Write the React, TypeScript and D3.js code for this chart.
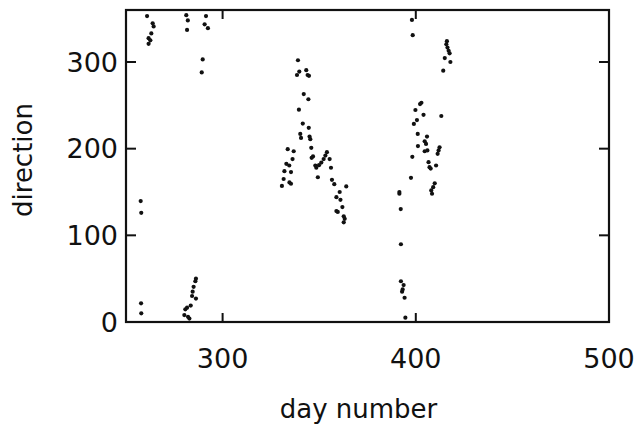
import React from "react";
import * as d3 from "d3";

// day number, direction (degrees)
const days: number[] = [
  257.6, 257.9, 257.8, 257.9,
  260.9, 263.8, 264.3, 263.1, 261.7, 262.6, 261.7,
  281.2, 282, 281.6,
  291.4, 290.7, 292.4, 289.7, 289.2,
  286.2, 285.9, 285, 284.5, 284.2, 286.2, 283.5, 281.6, 280.7, 280.2, 282.1, 282.8,
  339, 338.5, 339.7, 343.3, 344, 344.7, 342, 344.4, 339.5, 341.5, 344.6, 340.2, 340.6, 345, 345.4,
  345.9, 346.8, 346.1, 354, 353.2, 352.3, 351.1, 349.9, 348.5, 348, 349.3, 355.4, 356.1, 356.6,
  357.8, 364, 360.6, 358.9, 361, 362, 358.9, 359.6, 362.7, 363.2, 362.7,
  333.7, 336.8, 333, 334.5, 336.2, 332, 335.4, 331.6, 334.6, 335.4, 330.7,
  398, 398.4, 416.1, 415.8, 416.4, 417, 417.5, 415, 417.9, 414.2,
  402.9, 402.2, 399.8, 404, 413.2, 400.6, 399, 401, 405.8, 404.6, 405.3, 401.1, 412.3, 411.8,
  411.3, 404.6, 406, 398.2, 406.6, 407.1, 407.7, 410.5, 397.5, 409.8, 409, 408, 408.4,
  391.5, 391.5, 392.2, 392.3, 392.3, 393.7, 393.2, 392.9, 394.2, 394.6,
];

const directions: number[] = [
  139.5, 126, 21.5, 10,
  353, 344.7, 341, 333, 327.5, 325, 321,
  354, 348, 337,
  353, 343.5, 339, 303, 288,
  50, 47, 40.6, 35, 30, 27, 19, 16.5, 14.6, 8, 6, 4,
  302, 285, 289, 290.6, 285, 284, 263, 257, 245, 229, 224, 217, 212.4, 214, 211,
  201, 191, 189.4, 196, 192, 188, 184, 181, 178, 180.6, 167, 188, 178, 164,
  159, 156.4, 150, 144, 141, 132.6, 128, 127, 122, 119, 115,
  199.4, 197, 182.5, 180.6, 188, 174, 173, 165, 161, 159.5, 157,
  348.5, 331, 324, 320.5, 316.6, 313, 310, 304.5, 300, 290,
  253, 251.5, 244.6, 239, 237.7, 233, 228.5, 217, 214, 208.5, 205.5, 203, 201.6, 198,
  194, 197, 198, 190.6, 184.4, 178.6, 177, 180.6, 166.4, 160, 155.6, 151.8, 148,
  150, 148, 130.3, 89.7, 47, 42.6, 37.6, 35, 28, 5,
];

const xDomain: [number, number] = [250, 500];
const yDomain: [number, number] = [0, 360];
const xTickValues: number[] = [300, 400];
const xTickLabels: number[] = [300, 400, 500];
const yTickValues: number[] = [100, 200, 300];
const yTickLabels: number[] = [0, 100, 200, 300];
const xTitle = "day number";
const yTitle = "direction";

const W = 635;
const H = 429;
const left = 126;
const right = 609;
const top = 10;
const bottom = 322;
const tickLen = 10;
const font = "'DejaVu Sans', sans-serif";
const fs = 27;

export default function App() {
  const x = d3.scaleLinear().domain(xDomain).range([left, right]);
  const y = d3.scaleLinear().domain(yDomain).range([bottom, top]);
  const pts = days.map((d, i) => [d, directions[i]] as [number, number]);

  return (
    <svg
      width={W}
      height={H}
      viewBox={`0 0 ${W} ${H}`}
      style={{ position: "fixed", left: 0, top: 0, background: "#fff" }}
    >
      <rect x={0} y={0} width={W} height={H} fill="#fff" />
      <rect
        x={left}
        y={top}
        width={right - left}
        height={bottom - top}
        fill="none"
        stroke="#111"
        strokeWidth={2.2}
      />
      {yTickValues.map((v) => (
        <g key={"yt" + v}>
          <line x1={left} x2={left + tickLen} y1={y(v)} y2={y(v)} stroke="#111" strokeWidth={2} />
          <line x1={right} x2={right - tickLen} y1={y(v)} y2={y(v)} stroke="#111" strokeWidth={2} />
        </g>
      ))}
      {xTickValues.map((v) => (
        <g key={"xt" + v}>
          <line x1={x(v)} x2={x(v)} y1={bottom} y2={bottom - tickLen + 1} stroke="#111" strokeWidth={2} />
          <line x1={x(v)} x2={x(v)} y1={top} y2={top + tickLen - 1} stroke="#111" strokeWidth={2} />
        </g>
      ))}
      {yTickLabels.map((v) => (
        <text
          key={"yl" + v}
          x={left - 8}
          y={y(v)}
          dy="0.36em"
          textAnchor="end"
          fontFamily={font}
          fontSize={fs}
          fill="#111"
        >
          {v}
        </text>
      ))}
      {xTickLabels.map((v) => (
        <text
          key={"xl" + v}
          x={x(v)}
          y={bottom + 46}
          textAnchor="middle"
          fontFamily={font}
          fontSize={fs}
          fill="#111"
        >
          {v}
        </text>
      ))}
      <text
        x={(left + right) / 2 - 9}
        y={418}
        textAnchor="middle"
        fontFamily={font}
        fontSize={26}
        fill="#111"
      >
        {xTitle}
      </text>
      <text
        transform={`translate(32,${(top + bottom) / 2 - 6}) rotate(-90)`}
        textAnchor="middle"
        fontFamily={font}
        fontSize={26}
        fill="#111"
      >
        {yTitle}
      </text>
      {pts.map(([d, v], i) => (
        <circle key={i} cx={x(d)} cy={y(v)} r={2.1} fill="#111" />
      ))}
    </svg>
  );
}
